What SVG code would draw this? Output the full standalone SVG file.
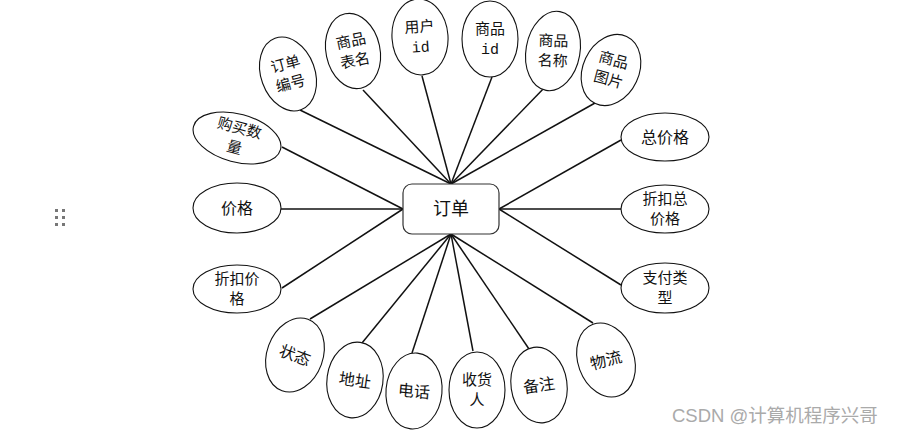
<svg xmlns="http://www.w3.org/2000/svg" width="898" height="439" viewBox="0 0 898 439">
<style>
.e{fill:#fff;stroke:#111;stroke-width:1.1}
.t{font-family:"Noto Sans CJK SC","Liberation Sans",sans-serif;font-size:15px;fill:#111;text-anchor:middle}
.c{stroke:#111;stroke-width:1.5;fill:none}
.dot{fill:#777}
</style>
<rect width="898" height="439" fill="#fff"/>
<g id="handle">
<rect class="dot" x="55" y="209" width="3" height="3"/><rect class="dot" x="62" y="209" width="3" height="3"/>
<rect class="dot" x="55" y="216" width="3" height="3"/><rect class="dot" x="62" y="216" width="3" height="3"/>
<rect class="dot" x="55" y="223" width="3" height="3"/><rect class="dot" x="62" y="223" width="3" height="3"/>
</g>
<g id="connectors" class="c">
<line x1="451" y1="184" x2="300" y2="110"/>
<line x1="451" y1="184" x2="363" y2="90"/>
<line x1="451" y1="184" x2="422" y2="76"/>
<line x1="451" y1="184" x2="492" y2="77"/>
<line x1="451" y1="184" x2="547" y2="85"/>
<line x1="451" y1="184" x2="595" y2="103"/>
<line x1="403" y1="209" x2="282" y2="147"/>
<line x1="403" y1="209" x2="281" y2="209"/>
<line x1="403" y1="209" x2="282" y2="288"/>
<line x1="499" y1="209" x2="621" y2="140"/>
<line x1="499" y1="209" x2="621" y2="209"/>
<line x1="499" y1="209" x2="621" y2="285"/>
<line x1="451" y1="234" x2="310" y2="319"/>
<line x1="451" y1="234" x2="362" y2="343"/>
<line x1="451" y1="234" x2="412" y2="353"/>
<line x1="451" y1="234" x2="473" y2="351"/>
<line x1="451" y1="234" x2="529" y2="349"/>
<line x1="451" y1="234" x2="593" y2="323"/>
</g>
<g id="order">
<rect x="403" y="184" width="96" height="50" rx="9" fill="#fff" stroke="#333" stroke-width="1.2"/>
<text x="451" y="215" class="t" style="font-size:18px">订单</text>
</g>
<g id="n-order-no" transform="translate(288,74) rotate(-20)">
<ellipse class="e" rx="27" ry="38"/>
<g transform="rotate(5)"><text class="t" y="-5">订单</text><text class="t" y="15">编号</text></g>
</g>
<g id="n-table-name" transform="translate(353,51) rotate(-12)">
<ellipse class="e" rx="27" ry="38"/>
<text class="t" y="-5">商品</text><text class="t" y="15">表名</text>
</g>
<g id="n-user-id" transform="translate(420,37) rotate(-4)">
<ellipse class="e" rx="28" ry="38"/>
<text class="t" y="-5">用户</text><text class="t" y="15" style="font-family:'Liberation Mono',monospace">id</text>
</g>
<g id="n-goods-id" transform="translate(490,39)">
<ellipse class="e" rx="28" ry="38"/>
<text class="t" y="-5">商品</text><text class="t" y="15" style="font-family:'Liberation Mono',monospace">id</text>
</g>
<g id="n-goods-name" transform="translate(553,51) rotate(10)">
<ellipse class="e" rx="27" ry="40"/>
<g transform="rotate(-8)"><text class="t" y="-5">商品</text><text class="t" y="15">名称</text></g>
</g>
<g id="n-goods-pic" transform="translate(611,70) rotate(25)">
<ellipse class="e" rx="28" ry="37"/>
<g transform="rotate(-10)"><text class="t" y="-5">商品</text><text class="t" y="15">图片</text></g>
</g>
<g id="n-qty" transform="translate(237,138) rotate(15)">
<ellipse class="e" rx="45" ry="24"/>
<text class="t" y="-5">购买数</text><text class="t" y="15">量</text>
</g>
<g id="n-price" transform="translate(237,208)">
<ellipse class="e" rx="44" ry="25"/>
<text class="t" y="6" style="font-size:16px">价格</text>
</g>
<g id="n-disc-price" transform="translate(237,289)">
<ellipse class="e" rx="44" ry="24"/>
<text class="t" y="-5">折扣价</text><text class="t" y="15">格</text>
</g>
<g id="n-total" transform="translate(665,137)">
<ellipse class="e" rx="44" ry="24"/>
<text class="t" y="6" style="font-size:16px">总价格</text>
</g>
<g id="n-disc-total" transform="translate(665,209)">
<ellipse class="e" rx="44" ry="24"/>
<text class="t" y="-5">折扣总</text><text class="t" y="15">价格</text>
</g>
<g id="n-pay-type" transform="translate(665,288)">
<ellipse class="e" rx="44" ry="25"/>
<text class="t" y="-5">支付类</text><text class="t" y="15">型</text>
</g>
<g id="n-status" transform="translate(295,355) rotate(20)">
<ellipse class="e" rx="28" ry="38"/>
<text class="t" y="6" style="font-size:16px">状态</text>
</g>
<g id="n-address" transform="translate(355,380) rotate(8)">
<ellipse class="e" rx="28" ry="38"/>
<text class="t" y="6" style="font-size:16px">地址</text>
</g>
<g id="n-phone" transform="translate(414,391) rotate(5)">
<ellipse class="e" rx="28" ry="38"/>
<text class="t" y="6" style="font-size:16px">电话</text>
</g>
<g id="n-receiver" transform="translate(477,390)">
<ellipse class="e" rx="28" ry="38"/>
<text class="t" y="-5">收货</text><text class="t" y="15">人</text>
</g>
<g id="n-remark" transform="translate(539,385) rotate(-8)">
<ellipse class="e" rx="28" ry="38"/>
<text class="t" y="6" style="font-size:16px">备注</text>
</g>
<g id="n-logistics" transform="translate(606,360) rotate(-20)">
<ellipse class="e" rx="28" ry="38"/>
<g transform="rotate(5)"><text class="t" y="6" style="font-size:16px">物流</text></g>
</g>
<text x="672" y="422" style="font-family:'Liberation Sans','Noto Sans CJK SC',sans-serif;font-size:18.5px;fill:#aaa">CSDN @计算机程序兴哥</text>
</svg>
